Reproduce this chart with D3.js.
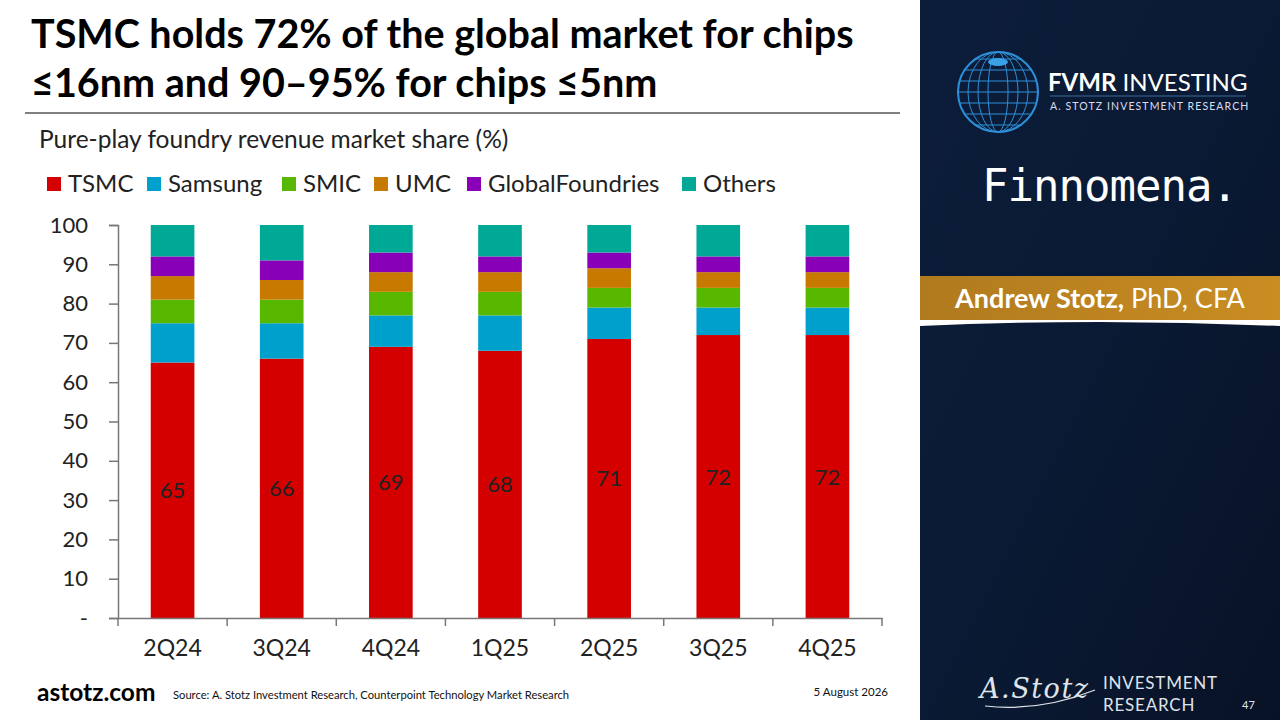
<!DOCTYPE html>
<html><head><meta charset="utf-8">
<script src="https://cdn.jsdelivr.net/npm/d3@7"></script>
<style>body{margin:0;background:#fff}svg{display:block}</style>
</head><body>
<svg id="c" width="1280" height="720"></svg>
<script>
const categories = ["2Q24","3Q24","4Q24","1Q25","2Q25","3Q25","4Q25"];
const seriesNames = ["TSMC","Samsung","SMIC","UMC","GlobalFoundries","Others"];
const seriesColors = ["#d40000","#00a0cc","#58b800","#c87a00","#8800b8","#00a896"];
const tsmc = [65,66,69,68,71,72,72];
const samsung = [10,9,8,9,8,7,7];
const smic = [6,6,6,6,5,5,5];
const umc = [6,5,5,5,5,4,4];
const globalFoundries = [5,5,5,4,4,4,4];
const others = [8,9,7,8,7,8,8];
const yTicks = [0,10,20,30,40,50,60,70,80,90,100];

const svg = d3.select("#c");
const FONT = "Lato, 'Open Sans', sans-serif";

// right panel
const defs = svg.append("defs");
const g1 = defs.append("linearGradient").attr("id","bg").attr("x1","0").attr("y1","0").attr("x2","1").attr("y2","1");
g1.append("stop").attr("offset","0").attr("stop-color","#0c1d3a");
g1.append("stop").attr("offset","0.5").attr("stop-color","#0a1a34");
g1.append("stop").attr("offset","1").attr("stop-color","#081226");
svg.append("rect").attr("x",920).attr("y",0).attr("width",360).attr("height",720).attr("fill","url(#bg)");
const g2 = defs.append("linearGradient").attr("id","gold").attr("x1","0").attr("x2","1");
g2.append("stop").attr("offset","0").attr("stop-color","#b07a1e");
g2.append("stop").attr("offset","1").attr("stop-color","#c98d22");
svg.append("rect").attr("x",920).attr("y",276).attr("width",360).attr("height",44).attr("fill","url(#gold)");
svg.append("path").attr("d","M920,320 L1280,320 L1280,326 Q1100,318 920,326 Z").attr("fill","#fff");
svg.append("text").attr("x",1100).attr("y",308).attr("text-anchor","middle").attr("fill","#fff")
  .attr("font-family",FONT).attr("font-size",27)
  .html('<tspan font-weight="bold">Andrew Stotz,</tspan> PhD, CFA');

// globe
const globe = svg.append("g").attr("transform","translate(998,92)");
globe.append("circle").attr("r",40).attr("fill","none").attr("stroke","#2e8fd8").attr("stroke-width",2);
for (let i=-3;i<=3;i++){ const yy=i*11; const rx=Math.sqrt(Math.max(0,1600-yy*yy));
  globe.append("line").attr("x1",-rx).attr("x2",rx).attr("y1",yy).attr("y2",yy).attr("stroke","#2e8fd8").attr("stroke-width",1);}
for (let i=1;i<=4;i++){ globe.append("ellipse").attr("rx",i*10).attr("ry",40).attr("fill","none").attr("stroke","#2e8fd8").attr("stroke-width",1);}
globe.append("ellipse").attr("cy",-30).attr("rx",10).attr("ry",4).attr("fill","#3aa0e8");

svg.append("text").attr("x",1048).attr("y",91).attr("fill","#fff").attr("font-family",FONT).attr("font-size",24)
  .html('<tspan font-weight="bold">FVMR</tspan> INVESTING');
svg.append("line").attr("x1",1050).attr("x2",1246).attr("y1",96).attr("y2",96).attr("stroke","#3a6a9a").attr("stroke-width",1);
svg.append("text").attr("x",1050).attr("y",110).attr("fill","#dde").attr("font-family",FONT).attr("font-size",10.5).attr("letter-spacing",1.1)
  .text("A. STOTZ INVESTMENT RESEARCH");
svg.append("text").attr("x",982).attr("y",201).attr("fill","#fff").attr("font-family","'DejaVu Sans Mono', monospace").attr("font-size",44)
  .attr("textLength",256).text("Finnomena.");

svg.append("text").attr("x",980).attr("y",698).attr("fill","#dfe3ea").attr("font-family","'DejaVu Serif', serif").attr("font-style","italic").attr("font-size",27)
  .attr("textLength",108).text("A.Stotz");
svg.append("path").attr("d","M985,706 Q1040,712 1095,690").attr("fill","none").attr("stroke","#dfe3ea").attr("stroke-width",1.2);
svg.append("text").attr("x",1103).attr("y",689).attr("fill","#dfe3ea").attr("font-family",FONT).attr("font-size",17).attr("letter-spacing",0.8).text("INVESTMENT");
svg.append("text").attr("x",1103).attr("y",711).attr("fill","#dfe3ea").attr("font-family",FONT).attr("font-size",17).attr("letter-spacing",0.8).text("RESEARCH");
svg.append("text").attr("x",1242).attr("y",709).attr("fill","#dfe3ea").attr("font-family",FONT).attr("font-size",11).text("47");

// title
const title = svg.append("text").attr("font-family",FONT).attr("font-weight","bold").attr("font-size",39.5).attr("fill","#000");
title.append("tspan").attr("x",31).attr("y",48).text("TSMC holds 72% of the global market for chips");
title.append("tspan").attr("x",31).attr("y",97).text("≤16nm and 90–95% for chips ≤5nm");
svg.append("line").attr("x1",25).attr("x2",900).attr("y1",113).attr("y2",113).attr("stroke","#000").attr("stroke-width",1);
svg.append("text").attr("x",39).attr("y",148).attr("font-family",FONT).attr("font-size",24.5).attr("fill","#222")
  .text("Pure-play foundry revenue market share (%)");

// legend
const legendX = [47,147,282,374,467,682];
seriesNames.forEach((n,i)=>{
  svg.append("rect").attr("x",legendX[i]).attr("y",177).attr("width",14).attr("height",14).attr("fill",seriesColors[i]);
  svg.append("text").attr("x",legendX[i]+21).attr("y",192).attr("font-family",FONT).attr("font-size",24).attr("fill","#222").text(n);
});

// chart
const x = d3.scaleBand().domain(categories).range([118,882]).paddingInner(0.6).paddingOuter(0.3);
const y = d3.scaleLinear().domain([0,100]).range([618,225]);
const table = categories.map((c,i)=>({cat:c,TSMC:tsmc[i],Samsung:samsung[i],SMIC:smic[i],UMC:umc[i],GlobalFoundries:globalFoundries[i],Others:others[i]}));
const stack = d3.stack().keys(seriesNames)(table);
const color = d3.scaleOrdinal().domain(seriesNames).range(seriesColors);

svg.append("g").selectAll("g").data(stack).join("g").attr("fill",d=>color(d.key))
  .selectAll("rect").data(d=>d).join("rect")
  .attr("x",d=>x(d.data.cat)).attr("width",x.bandwidth())
  .attr("y",d=>y(d[1])).attr("height",d=>y(d[0])-y(d[1]));

// labels
svg.append("g").selectAll("text").data(table).join("text")
  .attr("x",d=>x(d.cat)+x.bandwidth()/2).attr("y",d=>y(d.TSMC/2)+8)
  .attr("text-anchor","middle").attr("font-family",FONT).attr("font-size",22).attr("fill","#222")
  .text(d=>d.TSMC);

// y axis
const yAxis = svg.append("g").attr("transform","translate(118,0)")
  .call(d3.axisLeft(y).tickValues(yTicks).tickSize(9).tickPadding(21).tickFormat(d=>d===0?"-":d));
yAxis.select(".domain").attr("stroke","#777").attr("stroke-width",1.5);
yAxis.selectAll(".tick line").attr("stroke","#777").attr("stroke-width",1.5);
yAxis.selectAll("text").attr("font-family",FONT).attr("font-size",22).attr("fill","#222");

// x axis
const xAxis = svg.append("g").attr("transform","translate(0,618)")
  .call(d3.axisBottom(x).tickSize(0).tickPadding(22));
xAxis.select(".domain").attr("stroke","#777").attr("stroke-width",1.5);
xAxis.selectAll("text").attr("font-family",FONT).attr("font-size",23).attr("fill","#222");
const bounds = categories.map(c=>x(c)-x.step()*x.paddingInner()/2).concat([882]);
svg.append("g").selectAll("line").data(bounds).join("line")
  .attr("x1",d=>d).attr("x2",d=>d).attr("y1",618).attr("y2",626).attr("stroke","#777").attr("stroke-width",1.5);

// footer
svg.append("text").attr("x",37).attr("y",701).attr("font-family",FONT).attr("font-weight","bold").attr("font-size",24.5).attr("fill","#000").text("astotz.com");
svg.append("text").attr("x",173).attr("y",699).attr("font-family",FONT).attr("font-size",11.2).attr("fill","#111")
  .text("Source: A. Stotz Investment Research, Counterpoint Technology Market Research");
svg.append("text").attr("x",888).attr("y",696).attr("text-anchor","end").attr("font-family",FONT).attr("font-size",11.5).attr("fill","#111").text("5 August 2026");
</script>
</body></html>
